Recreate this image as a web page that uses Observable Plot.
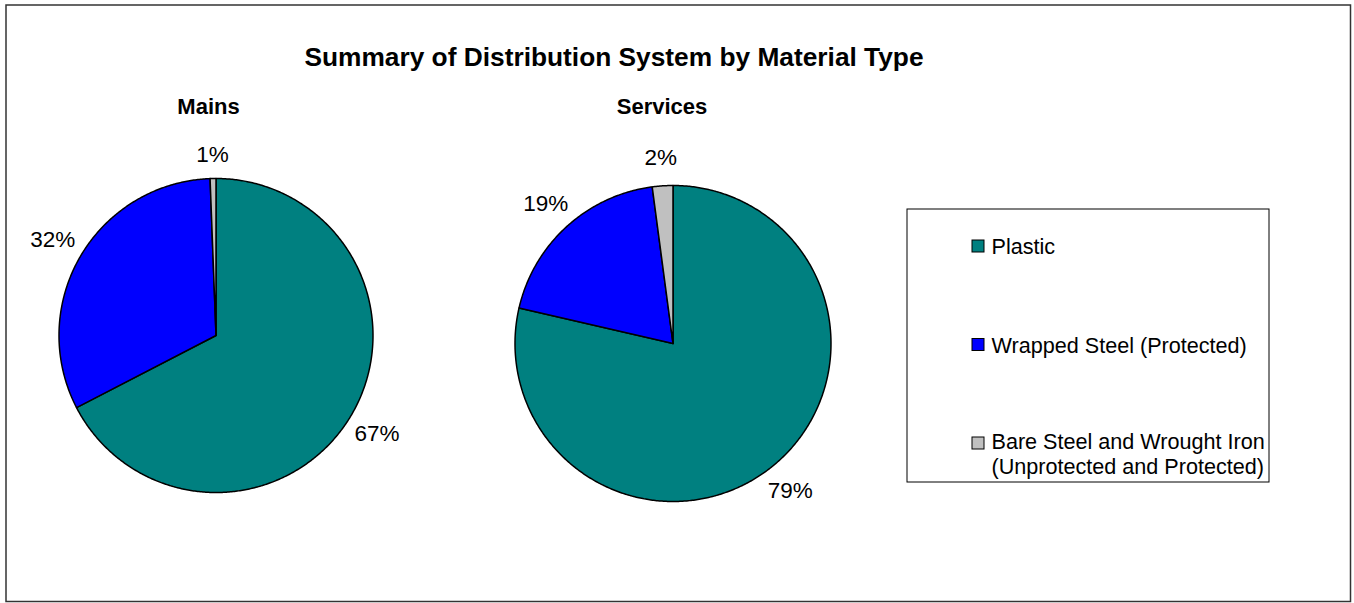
<!DOCTYPE html>
<html><head><meta charset="utf-8">
<script src="https://cdn.jsdelivr.net/npm/d3@7"></script>
<script src="https://cdn.jsdelivr.net/npm/@observablehq/plot@0.6"></script>
<style>html,body{margin:0;padding:0;background:#fff;}</style>
</head><body><div id="chart"></div>
<script>
// ---- data ----
const title = "Summary of Distribution System by Material Type";
const pieNames = ["Mains", "Services"];
const categories = ["Plastic", "Wrapped Steel (Protected)", "Bare Steel and Wrought Iron\n(Unprotected and Protected)"];
const colors = ["#008080", "#0000FF", "#C0C0C0"];
const mainsValues = [67.4, 32.0, 0.6];
const servicesValues = [78.6, 19.3, 2.1];

// ---- layout ----
const W = 1354, H = 603;
const font = "'Liberation Sans', Arial, Helvetica, sans-serif";
const labelFs = 22.5;
const pies = [
  {name: pieNames[0], values: mainsValues, cx: 215.5, cy: 335, r: 157, tx: 208, ty: 106, gap: 16},
  {name: pieNames[1], values: servicesValues, cx: 672.5, cy: 343, r: 158, tx: 661.5, ty: 106, gap: 20}
];

function charW(c) { return c === "%" ? 0.889 : 0.556; }
function textWidth(s) { let w = 0; for (const c of s) w += charW(c); return w * labelFs; }

const slicePts = [];
const labels = [];
for (const p of pies) {
  const arcs = d3.pie().sort(null)(p.values);
  arcs.forEach((a, i) => {
    const key = p.name + i;
    const steps = Math.max(2, Math.ceil((a.endAngle - a.startAngle) * 180 / Math.PI * 2));
    slicePts.push({key, cat: categories[i], x: p.cx, y: p.cy});
    for (let k = 0; k <= steps; k++) {
      const t = a.startAngle + (a.endAngle - a.startAngle) * k / steps;
      slicePts.push({key, cat: categories[i], x: p.cx + p.r * Math.sin(t), y: p.cy - p.r * Math.cos(t)});
    }
    slicePts.push({key, cat: categories[i], x: p.cx, y: p.cy});
    const m = (a.startAngle + a.endAngle) / 2;
    const dx = Math.sin(m), dy = -Math.cos(m);
    const text = Math.round(p.values[i]) + "%";
    const hw = textWidth(text) / 2, hh = 0.36 * labelFs;
    const ext = Math.min(Math.abs(dx) > 1e-6 ? hw / Math.abs(dx) : Infinity, Math.abs(dy) > 1e-6 ? hh / Math.abs(dy) : Infinity);
    const d = p.r + p.gap + ext;
    labels.push({x: p.cx + d * dx, y: p.cy + d * dy, text});
  });
}

const legFs = 21.6, legLH = 1.15, legTop = 246, legStep = 98.5;
const legItems = categories.map((c, i) => {
  const n = c.split("\n").length;
  return {cat: c, cy: legTop + i * legStep, ty: legTop + i * legStep + (n - 1) * legLH * legFs / 2 - (n - 1) * 2};
});

const chart = Plot.plot({
  width: W, height: H, margin: 0,
  style: {fontFamily: font, background: "#fff", color: "#000"},
  x: {domain: [0, W], range: [0, W], axis: null},
  y: {domain: [0, H], range: [0, H], axis: null},
  color: {domain: categories, range: colors},
  marks: [
    Plot.frame({stroke: "#333", strokeWidth: 1.5, insetLeft: 5.5, insetTop: 4.5, insetRight: 4, insetBottom: 2}),
    Plot.text([title], {x: 613.5, y: 57.5, text: d => d, fontSize: 26.3, fontWeight: "bold", fill: "#000"}),
    Plot.text(pies, {x: "tx", y: "ty", text: "name", fontSize: 22, fontWeight: "bold", fill: "#000"}),
    Plot.line(slicePts, {x: "x", y: "y", z: "key", fill: "cat", stroke: "#000", strokeWidth: 1.5, strokeLinejoin: "round", curve: "linear"}),
    Plot.text(labels, {x: "x", y: "y", text: "text", fontSize: labelFs, fill: "#000"}),
    Plot.rect([0], {x1: 907, x2: 1269, y1: 209, y2: 482, fill: "none", stroke: "#000", strokeWidth: 1}),
    Plot.rect(legItems, {x1: 972, x2: 984, y1: d => d.cy - 6, y2: d => d.cy + 6, fill: "cat", stroke: "#000", strokeWidth: 1}),
    Plot.text(legItems, {x: 991, y: "ty", text: "cat", textAnchor: "start", fontSize: legFs, lineHeight: legLH, fill: "#000"})
  ]
});
document.getElementById("chart").appendChild(chart);
</script>
</body></html>
